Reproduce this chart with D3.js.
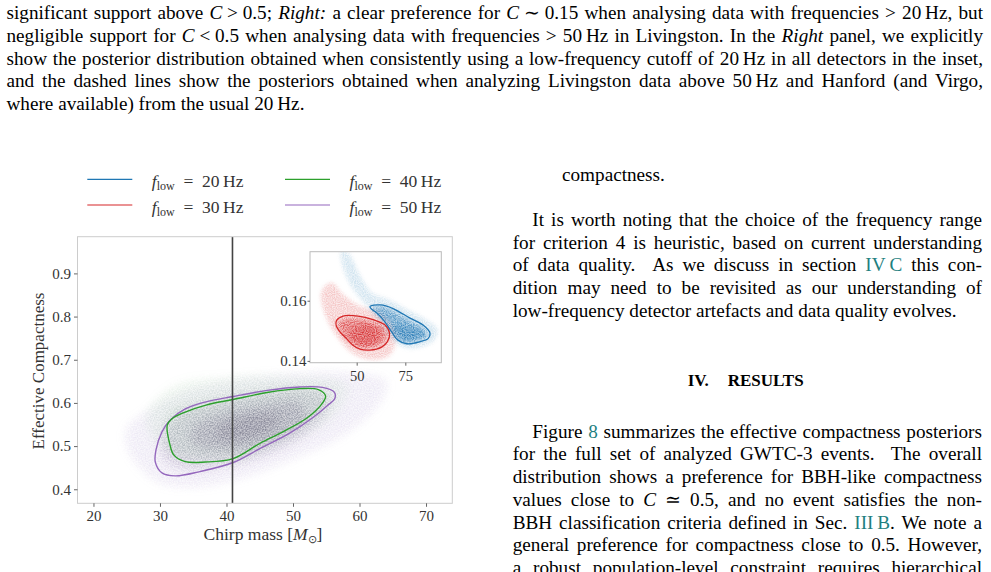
<!DOCTYPE html>
<html><head><meta charset="utf-8">
<script src="https://cdn.jsdelivr.net/npm/d3@7"></script>
<style>
body{margin:0;width:991px;height:572px;overflow:hidden;background:#fff;position:relative;font-family:"Liberation Serif","Times New Roman",serif;}
.ln{position:absolute;white-space:pre;font-size:19.2px;line-height:23px;color:#000;}
.lk{color:#1f7f7f;}
svg{position:absolute;left:0;top:0;}
</style></head><body>
<div id="text"></div>
<svg id="chart" width="991" height="572"></svg>
<script>
// ---------------- DATA ----------------
const xTicksMain = [20, 30, 40, 50, 60, 70];
const yTicksMain = [0.4, 0.5, 0.6, 0.7, 0.8, 0.9];
const xTicksInset = [50, 75];
const yTicksInset = [0.14, 0.16];
const legendFreqs = [20, 30, 40, 50];
const cutChirpMass = 40.9;

// 90% contours (chirp mass, compactness)
const contour50 = [[29.3,0.463],[29.4,0.491],[30.3,0.533],[31.5,0.560],[33.8,0.586],[36.8,0.602],[41.0,0.615],[46.1,0.629],[51.0,0.637],[54.4,0.636],[56.2,0.625],[56.3,0.611],[55.1,0.593],[52.9,0.565],[49.5,0.530],[45.0,0.494],[41.0,0.462],[36.0,0.441],[32.3,0.431],[30.3,0.438]];
const contour40 = [[31.1,0.549],[31.5,0.503],[32.1,0.479],[33.8,0.464],[36.8,0.463],[41.0,0.471],[45.0,0.506],[48.6,0.534],[52.1,0.565],[54.1,0.593],[54.9,0.616],[53.8,0.631],[51.0,0.633],[46.1,0.624],[41.0,0.608],[36.9,0.595],[33.5,0.577],[31.8,0.563]];
const contour30 = [[39.6,0.1534],[43.0,0.1549],[50.7,0.1549],[58.4,0.1537],[64.6,0.1519],[66.9,0.1491],[65.8,0.1464],[62.8,0.1446],[56.8,0.1436],[51.7,0.1439],[48.1,0.1452],[44.8,0.1474],[40.9,0.1501],[39.4,0.1519]];
const contour20 = [[56.8,0.1581],[62.0,0.1586],[68.7,0.1574],[77.4,0.1542],[84.1,0.1519],[87.7,0.1492],[86.7,0.1474],[82.6,0.1464],[75.9,0.1457],[71.2,0.1469],[67.9,0.1497],[64.6,0.1529],[60.4,0.1559],[57.4,0.1574]];

// sample-density regions (outer -> inner)
const cloud50Halo = [[25,0.50],[27,0.45],[30,0.415],[35,0.405],[42,0.425],[50,0.47],[58,0.53],[63,0.6],[64,0.65],[58,0.67],[48,0.665],[40,0.65],[33,0.625],[28,0.58],[25,0.54]];
const cloud50Body = [[30.5,0.47],[34,0.445],[40,0.455],[46,0.48],[52,0.53],[55,0.58],[55,0.62],[50,0.63],[44,0.62],[38,0.6],[33,0.575],[30.5,0.53]];
const cloud50Core = [[35,0.505],[39,0.49],[44,0.5],[49,0.53],[52,0.565],[51,0.6],[46,0.595],[41,0.58],[36,0.555],[34.5,0.53]];
const cloud50Peak = [[39,0.515],[43,0.515],[47,0.54],[48,0.57],[45,0.575],[41,0.56],[38.5,0.54]];
const cloud40Halo = [[28,0.57],[30,0.5],[36,0.47],[46,0.49],[56,0.57],[58,0.64],[50,0.66],[40,0.66],[32,0.64]];
const cloud40Body = [[31,0.55],[32,0.48],[36,0.465],[42,0.47],[48,0.52],[54,0.58],[55,0.62],[50,0.635],[42,0.62],[35,0.6],[31.5,0.58]];
const cloud30Halo = [[32,0.163],[37,0.166],[43,0.162],[52,0.158],[62,0.156],[68,0.152],[70,0.147],[67,0.142],[58,0.1405],[48,0.1425],[40,0.148],[34,0.155]];
const cloud30Body = [[40.5,0.1525],[44,0.154],[51,0.154],[58,0.153],[63.5,0.1515],[65.5,0.149],[64.5,0.1465],[61,0.145],[55,0.1443],[50,0.1448],[46,0.1465],[42,0.1495]];
const cloud30Core = [[46,0.1485],[51,0.1515],[57,0.152],[62,0.149],[60,0.1458],[54,0.1448],[49,0.1462]];
const cloud20Halo = [[42,0.1765],[46,0.1755],[52,0.168],[58,0.1625],[66,0.1605],[76,0.157],[86,0.1535],[91.5,0.1505],[90,0.147],[84,0.1448],[74,0.1445],[66,0.149],[61,0.154],[55,0.1585],[48,0.164],[43,0.171]];
const cloud20Body = [[58,0.1575],[63,0.158],[69,0.1565],[77,0.1535],[84,0.151],[86.5,0.149],[85,0.1475],[80,0.1465],[75,0.146],[71,0.148],[68,0.151],[64.5,0.1535],[60.5,0.1555]];
const cloud20Core = [[68,0.1515],[76,0.1515],[83,0.15],[85,0.1485],[80,0.147],[75,0.1465],[70,0.148]];

// ---------------- PAGE TEXT ----------------
const textLines = [
 {x:6.5,w:976.5,b:18.7,j:1,h:'significant support above <i>C</i>\u2005>\u20050.5; <i>Right:</i> a clear preference for <i>C</i>\u2005∼\u20050.15 when analysing data with frequencies > 20\u2009Hz, but'},
 {x:6.5,w:976.5,b:41.6,j:1,h:'negligible support for <i>C</i>\u2005<\u20050.5 when analysing data with frequencies > 50\u2009Hz in Livingston. In the <i>Right</i> panel, we explicitly'},
 {x:6.5,w:976.5,b:64.5,j:1,h:'show the posterior distribution obtained when consistently using a low-frequency cutoff of 20\u2009Hz in all detectors in the inset,'},
 {x:6.5,w:976.5,b:87.4,j:1,h:'and the dashed lines show the posteriors obtained when analyzing Livingston data above 50\u2009Hz and Hanford (and Virgo,'},
 {x:6.5,w:0,b:110.3,j:0,h:'where available) from the usual 20\u2009Hz.'},
 {x:562,w:0,b:180.7,j:0,h:'compactness.'},
 {x:532.3,w:449.7,b:226,j:1,h:'It is worth noting that the choice of the frequency range'},
 {x:512.7,w:469.3,b:248.7,j:1,h:'for criterion 4 is heuristic, based on current understanding'},
 {x:512.7,w:469.3,b:271.4,j:1,h:'of data quality.  As we discuss in section <span class="lk">IV\u2009C</span> this con-'},
 {x:512.7,w:469.3,b:294.1,j:1,h:'dition may need to be revisited as our understanding of'},
 {x:512.7,w:0,b:316.8,j:0,h:'low-frequency detector artefacts and data quality evolves.'},
 {x:532.3,w:449.7,b:437.7,j:1,h:'Figure <span class="lk">8</span> summarizes the effective compactness posteriors'},
 {x:512.7,w:469.3,b:460.4,j:1,h:'for the full set of analyzed GWTC-3 events.  The overall'},
 {x:512.7,w:469.3,b:483.1,j:1,h:'distribution shows a preference for BBH-like compactness'},
 {x:512.7,w:469.3,b:505.8,j:1,h:'values close to <i>C</i> ≃ 0.5, and no event satisfies the non-'},
 {x:512.7,w:469.3,b:528.5,j:1,h:'BBH classification criteria defined in Sec. <span class="lk">III\u2009B</span>. We note a'},
 {x:512.7,w:469.3,b:551.2,j:1,h:'general preference for compactness close to 0.5. However,'},
 {x:512.7,w:469.3,b:573.9,j:1,h:'a robust population-level constraint requires hierarchical'}
];
const textBox = document.getElementById('text');
function addLine(L, fs, weight){
  const d = document.createElement('div');
  d.className = 'ln';
  d.style.fontSize = fs + 'px';
  if (weight) d.style.fontWeight = weight;
  const off = (23 - 1.107*fs)/2 + 0.891*fs;
  d.style.left = L.x + 'px';
  d.style.top = (L.b - off) + 'px';
  d.innerHTML = L.h;
  textBox.appendChild(d);
  if (L.j) {
    const w = d.getBoundingClientRect().width;
    const n = (d.textContent.match(/ /g) || []).length;
    if (n > 0) d.style.wordSpacing = ((L.w - w) / n) + 'px';
  }
}
textLines.forEach(L => addLine(L, 19.2));
addLine({x:687.7,b:386.7,j:0,h:'IV.'}, 17, 'bold');
addLine({x:727.7,b:386.7,j:0,h:'RESULTS'}, 17, 'bold');

// ---------------- CHART ----------------
const colors = {20:'#1f77b4', 30:'#d62728', 40:'#2ca02c', 50:'#9467bd'};
const FONT = '"Liberation Serif", "Times New Roman", serif';
const svg = d3.select('#chart');
const defs = svg.append('defs');

const M = {l:77.5, t:236.7, r:452.3, b:503.3};
const I = {l:310, t:251.7, r:441.3, b:362.7};
const x = d3.scaleLinear().domain([17.6, 73.95]).range([M.l, M.r]);
const y = d3.scaleLinear().domain([0.3675, 0.985]).range([M.b, M.t]);
const xi = d3.scaleLinear().domain([26, 93.5]).range([I.l, I.r]);
const yi = d3.scaleLinear().domain([0.1394, 0.1763]).range([I.b, I.t]);

defs.append('clipPath').attr('id','clipMain').append('rect')
  .attr('x',M.l).attr('y',M.t).attr('width',M.r-M.l).attr('height',M.b-M.t);
defs.append('clipPath').attr('id','clipInset').append('rect')
  .attr('x',I.l).attr('y',I.t).attr('width',I.r-I.l).attr('height',I.b-I.t);

// soft density + fine grain so the cloud reads like a dense scatter of samples
function grainFilter(id, sd, freq, seed){
  const f = defs.append('filter').attr('id',id).attr('filterUnits','userSpaceOnUse')
    .attr('x',0).attr('y',0).attr('width',991).attr('height',572)
    .attr('color-interpolation-filters','sRGB');
  f.append('feGaussianBlur').attr('in','SourceGraphic').attr('stdDeviation',sd).attr('result','b');
  f.append('feTurbulence').attr('type','fractalNoise').attr('baseFrequency',freq).attr('numOctaves',1).attr('seed',seed).attr('result','n');
  f.append('feColorMatrix').attr('in','n').attr('type','matrix')
    .attr('values','0 0 0 0 1  0 0 0 0 1  0 0 0 0 1  2.6 0 0 0 -0.85').attr('result','na');
  f.append('feComposite').attr('in','b').attr('in2','na').attr('operator','arithmetic')
    .attr('k1',0).attr('k2',0.55).attr('k3',0).attr('k4',0).attr('result','base');
  f.append('feComposite').attr('in','b').attr('in2','na').attr('operator','in').attr('result','spk');
  const m = f.append('feMerge');
  m.append('feMergeNode').attr('in','base');
  m.append('feMergeNode').attr('in','spk');
}
grainFilter('grainMain', 5, 0.75, 7);
grainFilter('grainInset', 2.2, 0.9, 11);

const lineMain = d3.line().x(d=>x(d[0])).y(d=>y(d[1])).curve(d3.curveCatmullRomClosed.alpha(0.5));
const lineInset = d3.line().x(d=>xi(d[0])).y(d=>yi(d[1])).curve(d3.curveCatmullRomClosed.alpha(0.5));

// main clouds
const gMainCloud = svg.append('g').attr('clip-path','url(#clipMain)').append('g').attr('filter','url(#grainMain)');
[[cloud50Halo,'#9a80c8',0.12],[cloud40Halo,'#2ca02c',0.06],[cloud50Body,'#7d6c9c',0.18],[cloud40Body,'#3f8f3f',0.08],[cloud50Core,'#6b6482',0.25],[cloud50Peak,'#5c5870',0.26]]
  .forEach(([pts,c,o]) => gMainCloud.append('path').attr('d',lineMain(pts)).attr('fill',c).attr('fill-opacity',o));

// contours
const gMain = svg.append('g').attr('clip-path','url(#clipMain)');
gMain.append('path').attr('d',lineMain(contour50)).attr('fill','none').attr('stroke',colors[50]).attr('stroke-width',1.4);
gMain.append('path').attr('d',lineMain(contour40)).attr('fill','none').attr('stroke',colors[40]).attr('stroke-width',1.4);
gMain.append('line').attr('x1',x(cutChirpMass)).attr('x2',x(cutChirpMass)).attr('y1',M.t).attr('y2',M.b)
  .attr('stroke','#444').attr('stroke-width',1.6);

svg.append('rect').attr('x',M.l).attr('y',M.t).attr('width',M.r-M.l).attr('height',M.b-M.t)
  .attr('fill','none').attr('stroke','#cccccc').attr('stroke-width',1);

function styleAxis(g, fs){
  g.attr('font-family',FONT).attr('font-size',fs);
  g.select('.domain').remove();
  g.selectAll('.tick line').attr('stroke','#555').attr('stroke-width',0.9);
  g.selectAll('.tick text').attr('fill','#333');
}
svg.append('g').attr('transform',`translate(0,${M.b})`)
  .call(d3.axisBottom(x).tickValues(xTicksMain).tickSize(3.5).tickPadding(4).tickFormat(d3.format('d')))
  .call(g=>styleAxis(g,15));
svg.append('g').attr('transform',`translate(${M.l},0)`)
  .call(d3.axisLeft(y).tickValues(yTicksMain).tickSize(3.5).tickPadding(3).tickFormat(d3.format('.1f')))
  .call(g=>styleAxis(g,15));

// axis labels
svg.append('text').attr('transform','translate(38,371) rotate(-90)').attr('text-anchor','middle').attr('dy','0.35em')
  .attr('font-family',FONT).attr('font-size',17).attr('fill','#333').text('Effective Compactness');
const xl = svg.append('text').attr('x',263).attr('y',540).attr('text-anchor','middle')
  .attr('font-family',FONT).attr('font-size',17.5).attr('fill','#333');
xl.append('tspan').text('Chirp mass [');
xl.append('tspan').attr('font-style','italic').text('M');
xl.append('tspan').attr('font-size',11).attr('dy',3).text('⊙');
xl.append('tspan').attr('dy',-3).text(']');

// inset
svg.append('rect').attr('x',I.l).attr('y',I.t).attr('width',I.r-I.l).attr('height',I.b-I.t).attr('fill','#fff');
const gInCloud = svg.append('g').attr('clip-path','url(#clipInset)').append('g').attr('filter','url(#grainInset)');
[[cloud30Halo,'#d62728',0.18],[cloud30Body,'#d62728',0.55],[cloud30Core,'#d62728',0.55],
 [cloud20Halo,'#1f77b4',0.14],[cloud20Body,'#1f77b4',0.55],[cloud20Core,'#1f77b4',0.55]]
  .forEach(([pts,c,o]) => gInCloud.append('path').attr('d',lineInset(pts)).attr('fill',c).attr('fill-opacity',o));
const gIn = svg.append('g').attr('clip-path','url(#clipInset)');
gIn.append('path').attr('d',lineInset(contour30)).attr('fill','none').attr('stroke',colors[30]).attr('stroke-width',1.3);
gIn.append('path').attr('d',lineInset(contour20)).attr('fill','none').attr('stroke',colors[20]).attr('stroke-width',1.3);
svg.append('rect').attr('x',I.l).attr('y',I.t).attr('width',I.r-I.l).attr('height',I.b-I.t)
  .attr('fill','none').attr('stroke','#bbbbbb').attr('stroke-width',1);
svg.append('g').attr('transform',`translate(0,${I.b})`)
  .call(d3.axisBottom(xi).tickValues(xTicksInset).tickSize(3).tickPadding(5).tickFormat(d3.format('d')))
  .call(g=>styleAxis(g,14.5));
svg.append('g').attr('transform',`translate(${I.l},0)`)
  .call(d3.axisLeft(yi).tickValues(yTicksInset).tickSize(2.5).tickPadding(1).tickFormat(d3.format('.2f')))
  .call(g=>styleAxis(g,15));

// legend
const legPos = {20:[87.3,179.3], 30:[87.3,205], 40:[285,179.3], 50:[285,205]};
legendFreqs.forEach(f => {
  const [lx, ly] = legPos[f];
  svg.append('line').attr('x1',lx).attr('x2',lx+45).attr('y1',ly).attr('y2',ly)
    .attr('stroke',colors[f]).attr('stroke-width',1.2);
  const t = svg.append('text').attr('x',lx+64.5).attr('y',ly+7.7)
    .attr('font-family',FONT).attr('font-size',17.5).attr('fill','#333');
  t.append('tspan').attr('font-style','italic').text('f');
  t.append('tspan').attr('font-size',12).attr('dy',3).text('low');
  t.append('tspan').attr('dy',-3).text('\u2002=\u2002' + f + '\u2009Hz');
});
</script>
</body></html>
